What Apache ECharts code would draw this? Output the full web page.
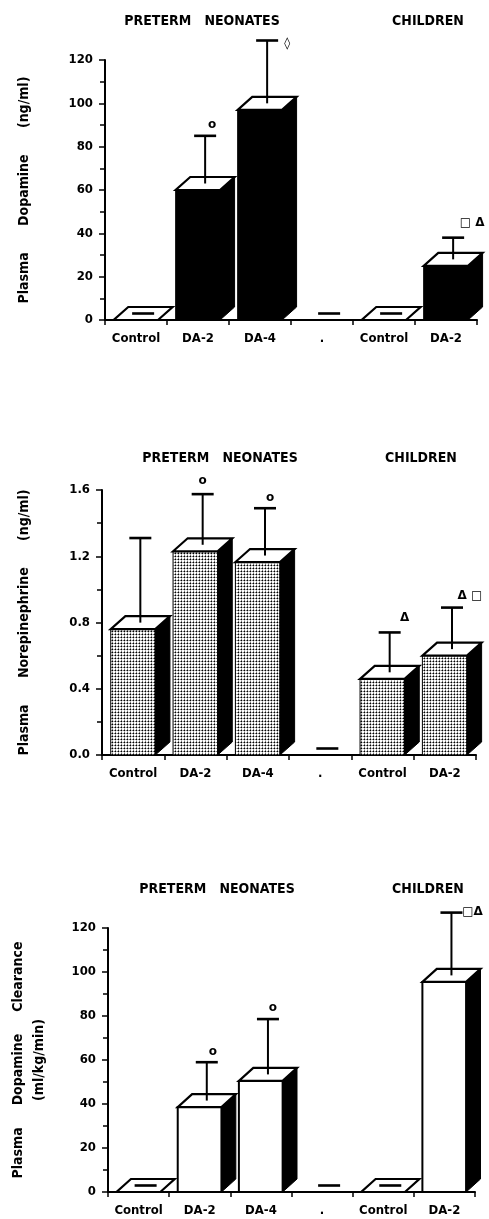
<!DOCTYPE html>
<html><head><meta charset="utf-8">
<script src="https://cdn.jsdelivr.net/npm/echarts@6/dist/echarts.min.js"></script>
<style>html,body{margin:0;padding:0;background:#fff}#c{width:489px;height:1219px}</style>
</head><body><div id="c"></div>
<script>
// ---- data ----
const categories = ['Control', 'DA-2', 'DA-4', '.', 'Control', 'DA-2'];
const groupLeft = 'PRETERM   NEONATES';
const groupRight = 'CHILDREN';

// Panel A: plasma dopamine (ng/ml)
const dopamineMean  = [0, 60, 97, 0, 0, 25];
const dopamineUpper = [null, 85, 129, null, null, 38];
const dopamineMarks = ['', 'o', '◊', '', '', '□ Δ'];

// Panel B: plasma norepinephrine (ng/ml)
const norepiMean  = [0.76, 1.23, 1.165, 0, 0.46, 0.60];
const norepiUpper = [1.31, 1.575, 1.49, null, 0.74, 0.89];
const norepiMarks = ['', 'o', 'o', '', 'Δ', 'Δ □'];

// Panel C: plasma dopamine clearance (ml/kg/min)
const clearMean  = [0, 38.6, 50.5, 0, 0, 95.5];
const clearUpper = [null, 59, 78.6, null, null, 127];
const clearMarks = ['', 'o', 'o', '', '', '□Δ'];

// ---- rendering ----
function makePattern() {
  const c = document.createElement('canvas');
  c.width = 3; c.height = 3;
  const g = c.getContext('2d');
  g.fillStyle = '#fff'; g.fillRect(0, 0, 3, 3);
  g.fillStyle = '#000'; g.fillRect(1, 1, 1, 1);
  g.fillStyle = '#777'; g.fillRect(0, 1, 1, 1); g.fillRect(1, 0, 1, 1);
  g.fillStyle = '#bbb'; g.fillRect(2, 1, 1, 1); g.fillRect(1, 2, 1, 1);
  return c;
}
const dotPattern = { image: makePattern(), repeat: 'repeat' };

const FONT = "'Liberation Sans Narrow','DejaVu Sans Condensed','Liberation Sans',Arial,sans-serif";

const panels = [
  { mean: dopamineMean, upper: dopamineUpper, marks: dopamineMarks,
    markOff: [null, [7, -11], [20, 3], null, null, [19, -15]],
    front: { fill: '#000', stroke: '#000', lineWidth: 1 },
    grid: { left: 105, right: 12, top: 60, height: 260 },
    max: 120, interval: 20, fmt: v => String(v),
    name: 'Plasma      Dopamine      (ng/ml)', nameGap: 70,
    titleY: 21, titleX: [202, 428] },
  { mean: norepiMean, upper: norepiUpper, marks: norepiMarks,
    markOff: [null, [0, -13], [5, -10], null, [15, -15], [18, -12]],
    front: { fill: dotPattern, stroke: '#000', lineWidth: 1 },
    grid: { left: 102, right: 13, top: 490, height: 265 },
    max: 1.6, interval: 0.4, fmt: v => v.toFixed(1),
    name: 'Plasma      Norepinephrine      (ng/ml)', nameGap: 67,
    titleY: 458, titleX: [220, 421] },
  { mean: clearMean, upper: clearUpper, marks: clearMarks,
    markOff: [null, [6, -10], [5, -11], null, null, [21, -1]],
    front: { fill: '#fff', stroke: '#000', lineWidth: 2 },
    grid: { left: 102, right: 14, top: 928, height: 264 },
    max: 120, interval: 20, fmt: v => String(v),
    name: 'Plasma     Dopamine     Clearance\n(ml/kg/min)', nameGap: 58,
    titleY: 889, titleX: [217, 428] }
];

function makeRender(p) {
  return function (params, api) {
    const i = api.value(0);
    const v = api.value(1);
    const base = api.coord([i, 0]);
    const top = api.coord([i, v]);
    const w = api.size([1, 0])[0];
    const cx = base[0];
    const x0 = cx - 0.36 * w, x1 = cx + 0.355 * w;
    const dx = 0.235 * w, dy = 13;
    const yb = base[1], yt = top[1];
    const kids = [];
    const gap = categories[i] === '.';
    const tcx = (x0 + x1) / 2 + dx / 2, tcy = yt - dy / 2;
    if (!gap) {
      if (yb - yt > 0.5) {
        kids.push({ type: 'rect', shape: { x: x0, y: yt, width: x1 - x0, height: yb - yt }, style: p.front });
        kids.push({ type: 'polygon', shape: { points: [[x1, yb], [x1, yt], [x1 + dx, yt - dy], [x1 + dx, yb - dy]] },
          style: { fill: '#000', stroke: '#000', lineWidth: 1 } });
      }
      kids.push({ type: 'polygon', shape: { points: [[x0, yt], [x1, yt], [x1 + dx, yt - dy], [x0 + dx, yt - dy]] },
        style: { fill: '#fff', stroke: '#000', lineWidth: 2.2, lineJoin: 'miter' } });
    }
    if (yb - yt <= 0.5) {
      kids.push({ type: 'line', shape: { x1: tcx - 11, y1: tcy, x2: tcx + 11, y2: tcy },
        style: { stroke: '#000', lineWidth: 2.6 } });
    }
    const up = p.upper[params.dataIndex];
    if (up != null) {
      const ye = api.coord([i, up])[1];
      kids.push({ type: 'line', shape: { x1: tcx, y1: tcy, x2: tcx, y2: ye }, style: { stroke: '#000', lineWidth: 2 } });
      kids.push({ type: 'line', shape: { x1: tcx - 11, y1: ye, x2: tcx + 11, y2: ye }, style: { stroke: '#000', lineWidth: 2.6 } });
      const m = p.marks[params.dataIndex];
      const off = p.markOff[params.dataIndex];
      if (m && off) {
        kids.push({ type: 'text', x: tcx + off[0], y: ye + off[1],
          style: { text: m, fill: '#000', align: 'center', verticalAlign: 'middle',
            font: "bold 12px 'DejaVu Sans', sans-serif" } });
      }
    }
    return { type: 'group', children: kids };
  };
}

const grid = [], xAxis = [], yAxis = [], series = [], graphic = [];
panels.forEach((p, k) => {
  grid.push(p.grid);
  xAxis.push({
    type: 'category', gridIndex: k, data: categories, boundaryGap: true,
    axisLine: { lineStyle: { color: '#000', width: 2 } },
    axisTick: { show: true, length: 5, interval: 0, lineStyle: { color: '#000', width: 1.5 } },
    axisLabel: { color: '#000', fontFamily: FONT, fontWeight: 'bold', fontSize: 13, margin: 12, interval: 0 },
    splitLine: { show: false }
  });
  yAxis.push({
    type: 'value', gridIndex: k, min: 0, max: p.max, interval: p.interval,
    axisLine: { show: true, lineStyle: { color: '#000', width: 2 } },
    axisTick: { show: true, length: 6, lineStyle: { color: '#000', width: 1.5 } },
    minorTick: { show: true, splitNumber: 2, length: 5, lineStyle: { color: '#000', width: 1.5 } },
    axisLabel: { color: '#000', fontFamily: FONT, fontWeight: 'bold', fontSize: 13, margin: 12, formatter: p.fmt },
    splitLine: { show: false },
    name: p.name, nameLocation: 'middle', nameRotate: 90, nameGap: p.nameGap,
    nameTextStyle: { color: '#000', fontFamily: FONT, fontWeight: 'bold', fontSize: 14, lineHeight: 21, align: 'center' }
  });
  series.push({
    type: 'custom', xAxisIndex: k, yAxisIndex: k, clip: false,
    data: p.mean.map((v, i) => [i, v]),
    encode: { x: 0, y: 1 },
    renderItem: makeRender(p)
  });
  [groupLeft, groupRight].forEach((t, j) => {
    graphic.push({ type: 'text', x: p.titleX[j], y: p.titleY,
      style: { text: t, fill: '#000', align: 'center', verticalAlign: 'middle',
        font: "bold 14px " + FONT } });
  });
});

const chart = echarts.init(document.getElementById('c'), null, { renderer: 'canvas' });
chart.setOption({ animation: false, backgroundColor: '#fff', grid, xAxis, yAxis, series, graphic });
</script>
</body></html>
